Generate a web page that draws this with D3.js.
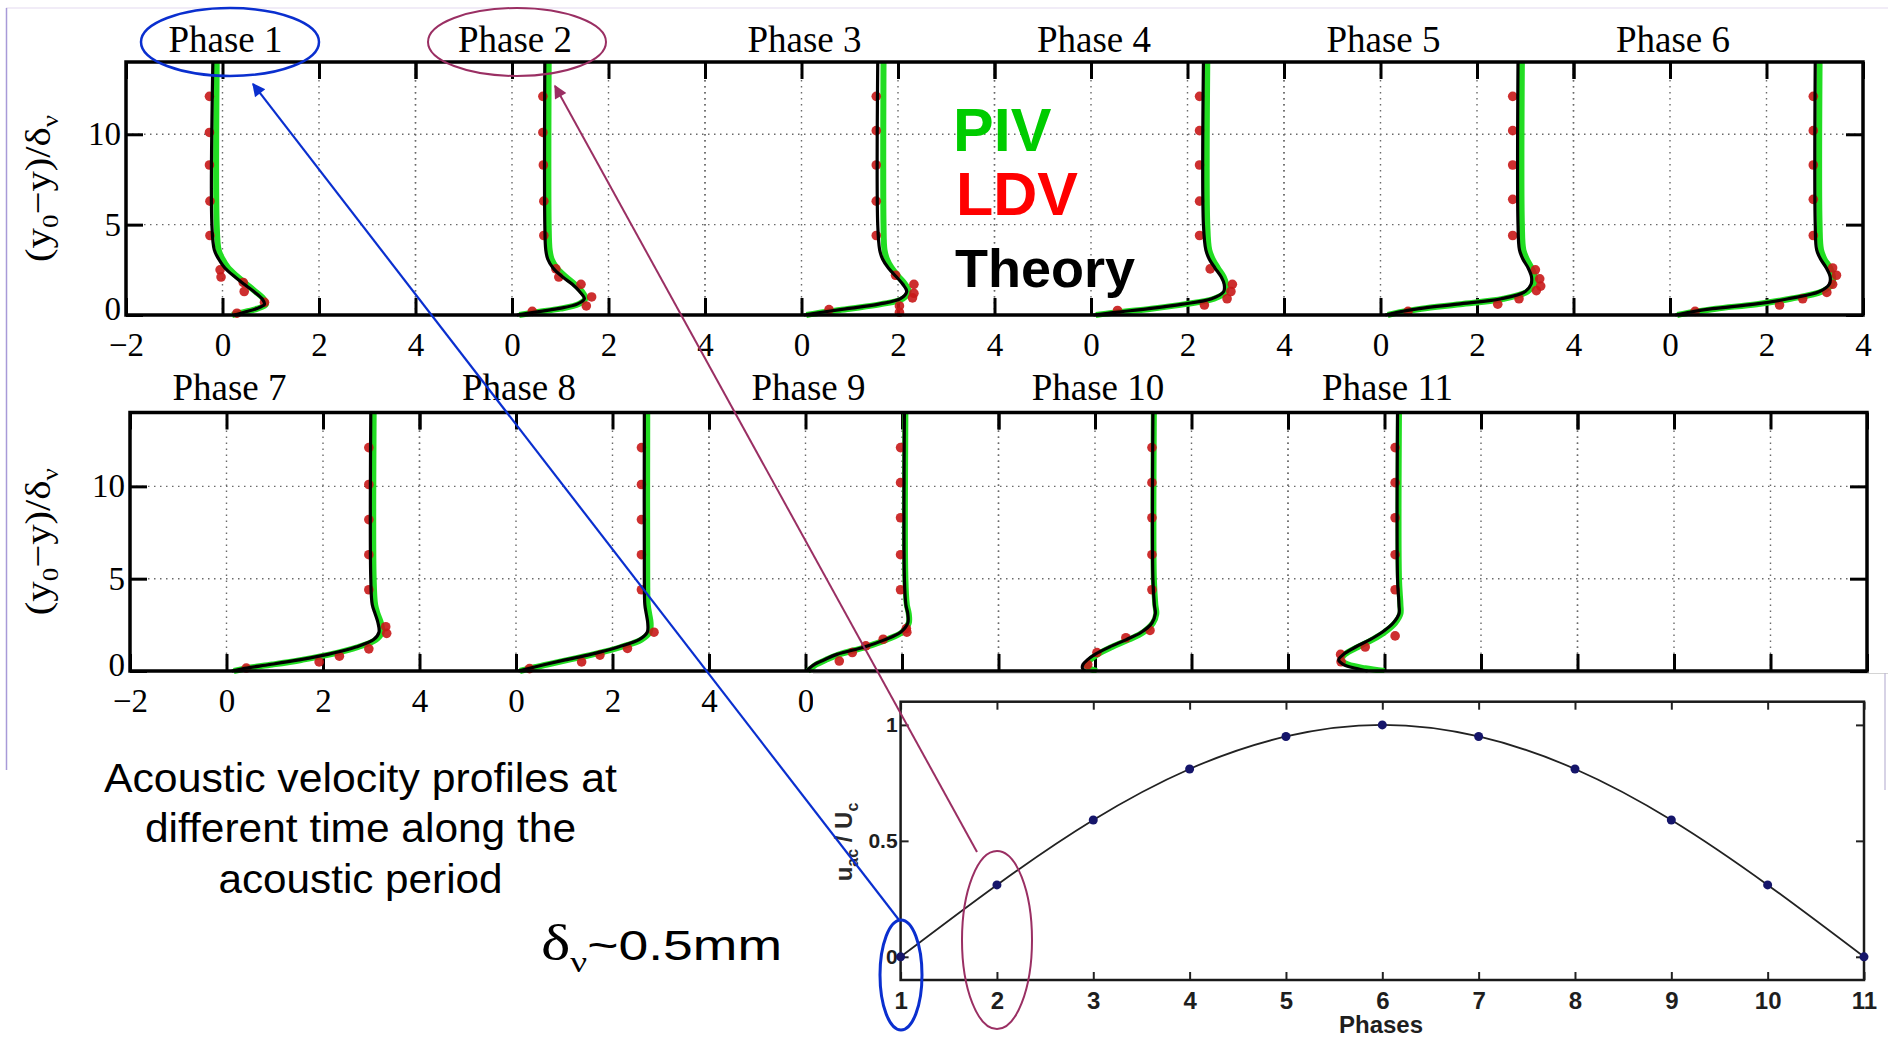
<!DOCTYPE html>
<html><head><meta charset="utf-8">
<script src="https://cdn.jsdelivr.net/npm/d3@7"></script>
<style>body{margin:0;background:#fff;} svg{display:block;}</style>
</head><body>
<script>
// ---------- DATA ----------
const phaseTitles = ["Phase 1","Phase 2","Phase 3","Phase 4","Phase 5","Phase 6","Phase 7","Phase 8","Phase 9","Phase 10","Phase 11"];
const xTickValues = [-2, 0, 2, 4];
const yTickValues = [0, 5, 10];
// wall-normal levels (y0-y)/delta_nu at which the profiles are read
const yLevels = [0, 0.15, 0.35, 0.6, 0.9, 1.3, 1.7, 2.1, 2.6, 3.1, 3.6, 5, 14];
// Theory (black) velocity at each level, one row per phase
const theoryU = [
  [0.25,0.45,0.70,0.87,0.82,0.65,0.45,0.26,0.05,-0.08,-0.17,-0.22,-0.20],
  [0.10,0.45,0.95,1.35,1.50,1.40,1.25,1.05,0.85,0.74,0.70,0.68,0.68],
  [0.05,0.42,0.95,1.60,2.05,2.18,2.10,1.97,1.80,1.68,1.62,1.58,1.58],
  [0.05,0.50,1.20,1.90,2.50,2.75,2.76,2.70,2.57,2.45,2.38,2.33,2.33],
  [0.10,0.35,0.80,1.60,2.50,3.00,3.12,3.13,3.06,2.95,2.88,2.85,2.85],
  [0.11,0.40,0.88,1.75,2.45,3.10,3.30,3.32,3.24,3.12,3.04,3.01,3.01],
  [0.11,0.38,0.90,1.50,2.10,2.68,3.05,3.16,3.14,3.08,3.02,2.99,2.99],
  [0.05,0.28,0.60,1.02,1.55,2.12,2.55,2.72,2.73,2.70,2.67,2.66,2.66],
  [0.02,0.08,0.18,0.38,0.65,1.22,1.65,1.97,2.12,2.12,2.08,2.05,2.05],
  [-0.20,-0.26,-0.25,-0.16,0.00,0.30,0.65,0.96,1.18,1.25,1.23,1.20,1.20],
  [-0.35,-0.60,-0.85,-0.95,-0.85,-0.60,-0.30,-0.05,0.18,0.30,0.30,0.27,0.27]
];
// PIV (green) velocity at each level, one row per phase
const pivU = [
  [0.20,0.42,0.72,0.90,0.85,0.68,0.50,0.32,0.12,0.00,-0.08,-0.12,-0.12],
  [0.15,0.50,1.00,1.38,1.52,1.45,1.30,1.12,0.93,0.82,0.78,0.76,0.76],
  [0.10,0.45,1.00,1.65,2.10,2.22,2.15,2.02,1.87,1.77,1.72,1.70,1.70],
  [0.10,0.55,1.25,1.95,2.55,2.80,2.80,2.75,2.63,2.52,2.45,2.41,2.41],
  [0.15,0.40,0.85,1.65,2.55,3.05,3.18,3.20,3.13,3.03,2.96,2.93,2.93],
  [0.15,0.45,0.95,1.80,2.50,3.15,3.36,3.38,3.32,3.20,3.13,3.10,3.10],
  [0.15,0.42,0.95,1.55,2.15,2.73,3.10,3.22,3.20,3.13,3.08,3.05,3.05],
  [0.08,0.30,0.65,1.08,1.60,2.18,2.60,2.77,2.79,2.76,2.73,2.72,2.72],
  [0.05,0.12,0.22,0.42,0.70,1.25,1.68,2.00,2.14,2.14,2.10,2.07,2.07],
  [0.04,-0.12,-0.18,-0.10,0.05,0.35,0.70,1.00,1.20,1.27,1.25,1.22,1.22],
  [0.00,-0.40,-0.75,-0.90,-0.82,-0.55,-0.25,0.00,0.22,0.33,0.33,0.30,0.30]
];
// LDV (red dots) as [u, (y0-y)/delta_nu] pairs, one list per phase
const ldvPoints = [
  [[-0.27,12.1],[-0.27,10.1],[-0.27,8.3],[-0.26,6.3],[-0.26,4.4],[-0.05,2.5],[-0.03,2.1],[0.43,1.8],[0.45,1.3],[0.87,0.7],[0.30,0.1]],
  [[0.64,12.1],[0.64,10.1],[0.65,8.3],[0.66,6.3],[0.66,4.4],[0.91,2.55],[0.97,2.1],[1.43,1.7],[1.65,1.0],[1.54,0.5],[0.42,0.2]],
  [[1.55,12.1],[1.55,10.2],[1.55,8.3],[1.55,6.3],[1.55,4.4],[1.95,2.2],[2.33,1.7],[2.33,1.2],[2.30,0.95],[2.03,0.5],[2.03,0.15],[0.57,0.3]],
  [[2.25,12.1],[2.25,10.2],[2.25,8.3],[2.25,6.3],[2.25,4.4],[2.47,2.55],[2.93,1.7],[2.90,1.3],[2.82,0.9],[2.35,0.55],[0.55,0.25]],
  [[2.74,12.1],[2.74,10.2],[2.74,8.3],[2.74,6.4],[2.74,4.4],[3.21,2.5],[3.30,2.0],[3.32,1.6],[3.23,1.35],[2.87,0.9],[2.43,0.6],[0.57,0.2]],
  [[2.97,12.1],[2.97,10.2],[2.97,8.3],[2.97,6.4],[2.97,4.4],[3.37,2.6],[3.45,2.2],[3.37,1.7],[3.25,1.25],[2.75,0.9],[2.27,0.55],[0.52,0.2]],
  [[2.95,12.1],[2.95,10.1],[2.95,8.2],[2.95,6.3],[2.95,4.4],[3.30,2.4],[3.32,2.04],[2.95,1.2],[2.34,0.8],[1.92,0.49],[0.41,0.16]],
  [[2.60,12.1],[2.60,10.1],[2.60,8.2],[2.60,6.3],[2.60,4.4],[2.86,2.1],[2.31,1.22],[1.74,0.86],[1.36,0.49],[0.28,0.13]],
  [[1.97,12.1],[1.97,10.2],[1.97,8.3],[1.97,6.3],[1.97,4.4],[2.09,2.3],[2.10,2.1],[1.61,1.72],[1.25,1.36],[0.97,1.0],[0.70,0.54]],
  [[1.18,12.1],[1.18,10.2],[1.18,8.3],[1.18,6.3],[1.18,4.4],[1.14,2.2],[0.64,1.8],[0.04,1.0],[-0.15,0.35]],
  [[0.22,12.1],[0.22,10.2],[0.22,8.3],[0.22,6.3],[0.22,4.4],[0.22,1.9],[-0.40,1.3],[-0.91,0.9],[-0.90,0.5]]
];
// inset: normalised acoustic velocity amplitude per phase
const insetPhases = [1,2,3,4,5,6,7,8,9,10,11];
const insetU = [0, 0.31, 0.59, 0.81, 0.95, 1.0, 0.95, 0.81, 0.59, 0.31, 0];
const insetYTicks = [0, 0.5, 1];
const legendItems = ["PIV","LDV","Theory"];
const captionLines = ["Acoustic velocity profiles at","different time along the","acoustic period"];

// ---------- DRAWING ----------
const SERIF = "'Liberation Serif','Times New Roman',serif";
const SANS = "'Liberation Sans',Arial,Helvetica,sans-serif";
const svg = d3.select("body").append("svg").attr("width",1888).attr("height",1039);
svg.append("rect").attr("width",1888).attr("height",1039).attr("fill","#fff");

// slide frame remnants
svg.append("line").attr("x1",6).attr("x2",1888).attr("y1",8).attr("y2",8).attr("stroke","#ece6f4").attr("stroke-width",1.5);
svg.append("line").attr("x1",6.5).attr("x2",6.5).attr("y1",8).attr("y2",770).attr("stroke","#a89ad8").attr("stroke-width",1.5);

const INSET_LEFT = 813;
const rows = [
  {x0:126, x1:1863, yTop:62, yBot:315, phases:[0,1,2,3,4,5], titleY:52, labelMaxX:1888},
  {x0:130, x1:1867, yTop:412.5, yBot:671, phases:[6,7,8,9,10], titleY:400, labelMaxX:INSET_LEFT}
];
const intFmt = d3.format("d");

rows.forEach(row => {
  const g = svg.append("g");
  const pw = (row.x1 - row.x0) / 6;
  const y = d3.scaleLinear().domain([0,14]).range([row.yBot,row.yTop]);
  const panels = d3.range(6).map(k => d3.scaleLinear().domain([-2,4]).range([row.x0+k*pw, row.x0+(k+1)*pw]));

  // grid
  const grid = g.append("g").attr("stroke","#6a6a6a").attr("stroke-width",1.4).attr("stroke-dasharray","1.5,4.5");
  panels.forEach(xs => {
    xTickValues.forEach(v => {
      const px = xs(v);
      if (Math.abs(px-row.x0) < 1 || Math.abs(px-row.x1) < 1) return;
      grid.append("line").attr("x1",px).attr("x2",px).attr("y1",row.yTop).attr("y2",row.yBot);
    });
  });
  [5,10].forEach(v => grid.append("line").attr("x1",row.x0).attr("x2",row.x1).attr("y1",y(v)).attr("y2",y(v)));

  // axes
  const ax = g.append("g");
  panels.forEach((xs,k) => {
    const vals = (k===0 ? xTickValues : xTickValues.slice(1));
    ax.append("g").attr("transform",`translate(0,${row.yBot})`)
      .call(d3.axisBottom(xs).tickValues(vals).tickSizeInner(-17).tickSizeOuter(0).tickPadding(18)
        .tickFormat(intFmt))
      .selectAll(".tick").filter(d => xs(d) > row.labelMaxX - 6).select("text").remove();
    ax.append("g").attr("transform",`translate(0,${row.yTop})`)
      .call(d3.axisTop(xs).tickValues(xTickValues).tickSizeInner(-17).tickSizeOuter(0).tickFormat(""));
  });
  const la = ax.append("g").attr("transform",`translate(${row.x0},0)`)
    .call(d3.axisLeft(y).tickValues(yTickValues).tickSizeInner(-17).tickSizeOuter(0).tickPadding(5).tickFormat(intFmt));
  la.selectAll(".tick").filter(d => d === 0).select("text").attr("y",-6);
  ax.append("g").attr("transform",`translate(${row.x1},0)`)
    .call(d3.axisRight(y).tickValues(yTickValues).tickSizeInner(-17).tickSizeOuter(0).tickFormat(""));
  ax.selectAll(".domain").remove();
  ax.selectAll(".tick line").attr("stroke","#000").attr("stroke-width",3);
  ax.selectAll(".tick text").attr("font-family",SERIF).attr("font-size",33).attr("fill","#000");

  // profiles
  row.phases.forEach((p,k) => {
    const xs = panels[k];
    const line = d3.line().x(d => xs(d[0])).y(d => y(d[1])).curve(d3.curveCatmullRom.alpha(0.5));
    g.append("path").datum(yLevels.map((yy,i) => [pivU[p][i], yy]))
      .attr("d",line).attr("fill","none").attr("stroke","#22dd22").attr("stroke-width",6).attr("stroke-linejoin","round");
    g.append("g").selectAll("circle").data(ldvPoints[p]).join("circle")
      .attr("cx",d => xs(d[0])).attr("cy",d => y(d[1])).attr("r",4.8)
      .attr("fill","#c81818").attr("fill-opacity",0.9);
    g.append("path").datum(yLevels.map((yy,i) => [theoryU[p][i], yy]))
      .attr("d",line).attr("fill","none").attr("stroke","#000").attr("stroke-width",3.2).attr("stroke-linejoin","round");
    g.append("text").attr("x",xs(0)+3).attr("y",row.titleY).attr("text-anchor","middle")
      .attr("font-family",SERIF).attr("font-size",37).attr("fill","#000").text(phaseTitles[p]);
  });

  // frame
  g.append("rect").attr("x",row.x0).attr("y",row.yTop).attr("width",row.x1-row.x0).attr("height",row.yBot-row.yTop)
    .attr("fill","none").attr("stroke","#000").attr("stroke-width",3.5);

  // y label
  const yl = g.append("text").attr("transform",`translate(50,${(row.yTop+row.yBot)/2}) rotate(-90)`)
    .attr("text-anchor","middle").attr("font-family",SERIF).attr("font-size",36).attr("fill","#000")
    .attr("textLength",147).attr("lengthAdjust","spacingAndGlyphs");
  yl.append("tspan").text("(y");
  yl.append("tspan").attr("font-size",24).attr("dy",8).text("0");
  yl.append("tspan").attr("dy",-8).text("\u2212y)/\u03b4");
  yl.append("tspan").attr("font-size",24).attr("dy",8).text("\u03bd");
});

// ---------- INSET ----------
const ig = svg.append("g");
ig.append("rect").attr("x",INSET_LEFT).attr("y",673).attr("width",1888-INSET_LEFT).attr("height",366).attr("fill","#fff");
ig.append("line").attr("x1",INSET_LEFT).attr("x2",1888).attr("y1",673.5).attr("y2",673.5).attr("stroke","#d4d4d4").attr("stroke-width",1.2);
ig.append("line").attr("x1",1885).attr("x2",1885).attr("y1",673).attr("y2",790).attr("stroke","#bdb6d6").attr("stroke-width",1.2);

const ix = d3.scaleLinear().domain([1,11]).range([900.6,1864]);
const iy = d3.scaleLinear().domain([-0.1,1.1]).range([980,701.7]);
const iax = ig.append("g");
iax.append("g").attr("transform","translate(0,980)")
  .call(d3.axisBottom(ix).tickValues(insetPhases).tickSizeInner(-8).tickSizeOuter(0).tickPadding(12).tickFormat(intFmt))
  .selectAll(".tick text").attr("font-size",24);
iax.append("g").attr("transform","translate(0,701.7)")
  .call(d3.axisTop(ix).tickValues(insetPhases).tickSizeInner(-8).tickSizeOuter(0).tickFormat(""));
iax.append("g").attr("transform","translate(900.6,0)")
  .call(d3.axisLeft(iy).tickValues(insetYTicks).tickSizeInner(-8).tickSizeOuter(0).tickPadding(3).tickFormat(d3.format("~g")))
  .selectAll(".tick text").attr("font-size",21);
iax.append("g").attr("transform","translate(1864,0)")
  .call(d3.axisRight(iy).tickValues(insetYTicks).tickSizeInner(-8).tickSizeOuter(0).tickFormat(""));
iax.selectAll(".domain").remove();
iax.selectAll(".tick line").attr("stroke","#222").attr("stroke-width",2);
iax.selectAll(".tick text").attr("font-family",SANS).attr("font-weight","bold").attr("fill","#1e1e1e");

ig.append("rect").attr("x",900.6).attr("y",701.7).attr("width",1864-900.6).attr("height",980-701.7)
  .attr("fill","none").attr("stroke","#1a1a1a").attr("stroke-width",2.5);
ig.append("path").datum(insetPhases.map((p,i) => [p, insetU[i]]))
  .attr("d", d3.line().x(d => ix(d[0])).y(d => iy(d[1])).curve(d3.curveNatural))
  .attr("fill","none").attr("stroke","#222").attr("stroke-width",1.8);
ig.append("g").selectAll("circle").data(insetPhases.map((p,i) => [p, insetU[i]])).join("circle")
  .attr("cx",d => ix(d[0])).attr("cy",d => iy(d[1])).attr("r",4.5).attr("fill","#15156a");
ig.append("text").attr("x",1381).attr("y",1033).attr("text-anchor","middle")
  .attr("font-family",SANS).attr("font-weight","bold").attr("font-size",24).attr("fill","#1e1e1e").text("Phases");
const iyl = ig.append("text").attr("transform","translate(852,842) rotate(-90)").attr("text-anchor","middle")
  .attr("font-family",SANS).attr("font-weight","bold").attr("font-size",24).attr("fill","#2a2a2a");
iyl.append("tspan").text("u");
iyl.append("tspan").attr("font-size",16).attr("dy",6).text("ac");
iyl.append("tspan").attr("dy",-6).text(" / U");
iyl.append("tspan").attr("font-size",16).attr("dy",6).text("c");

// ---------- LEGEND & TEXT ----------
const legendColors = ["#00cc00","#ff0000","#000000"];
const legendY = [151, 215, 287];
const legendX = [953, 956, 955];
const legendSize = [61, 61, 54];
legendItems.forEach((t,i) => {
  svg.append("text").attr("x",legendX[i]).attr("y",legendY[i]).attr("font-family",SANS).attr("font-weight","bold")
    .attr("font-size",legendSize[i]).attr("fill",legendColors[i]).text(t);
});
const capBase = [792, 842, 893];
const capLen = [513, 431, 284];
captionLines.forEach((t,i) => {
  svg.append("text").attr("x",360.5).attr("y",capBase[i]).attr("text-anchor","middle")
    .attr("font-family",SANS).attr("font-size",40).attr("fill","#000")
    .attr("textLength",capLen[i]).attr("lengthAdjust","spacingAndGlyphs").text(t);
});
const dt = svg.append("text").attr("x",541).attr("y",960).attr("font-family",SANS).attr("font-size",43).attr("fill","#000")
  .attr("textLength",241).attr("lengthAdjust","spacingAndGlyphs");
dt.append("tspan").attr("font-family",SERIF).attr("font-size",50).text("\u03b4");
dt.append("tspan").attr("font-family",SERIF).attr("font-size",30).attr("dy",12).text("\u03bd");
dt.append("tspan").attr("dy",-12).text("~0.5mm");

// ---------- ANNOTATIONS ----------
const BLUE = "#0a2fcf", PURPLE = "#9a2f63";
const defs = svg.append("defs");
[["arrB",BLUE],["arrP",PURPLE]].forEach(([id,c]) => {
  defs.append("marker").attr("id",id).attr("viewBox","0 0 10 10").attr("refX",9).attr("refY",5)
    .attr("markerWidth",18).attr("markerHeight",13).attr("markerUnits","userSpaceOnUse").attr("orient","auto")
    .append("path").attr("d","M0,0 L10,5 L0,10 z").attr("fill",c);
});
const ann = svg.append("g").attr("fill","none");
ann.append("ellipse").attr("cx",230).attr("cy",42).attr("rx",89).attr("ry",34).attr("stroke",BLUE).attr("stroke-width",2.5);
ann.append("ellipse").attr("cx",517).attr("cy",42).attr("rx",89).attr("ry",34).attr("stroke",PURPLE).attr("stroke-width",2);
ann.append("ellipse").attr("cx",901).attr("cy",975).attr("rx",21).attr("ry",55).attr("stroke",BLUE).attr("stroke-width",3);
ann.append("ellipse").attr("cx",997).attr("cy",940).attr("rx",35).attr("ry",89).attr("stroke",PURPLE).attr("stroke-width",2);
ann.append("line").attr("x1",899).attr("y1",920).attr("x2",253).attr("y2",84).attr("stroke",BLUE).attr("stroke-width",2.2).attr("marker-end","url(#arrB)");
ann.append("line").attr("x1",977).attr("y1",852).attr("x2",555).attr("y2",86).attr("stroke",PURPLE).attr("stroke-width",2).attr("marker-end","url(#arrP)");
</script>
</body></html>
